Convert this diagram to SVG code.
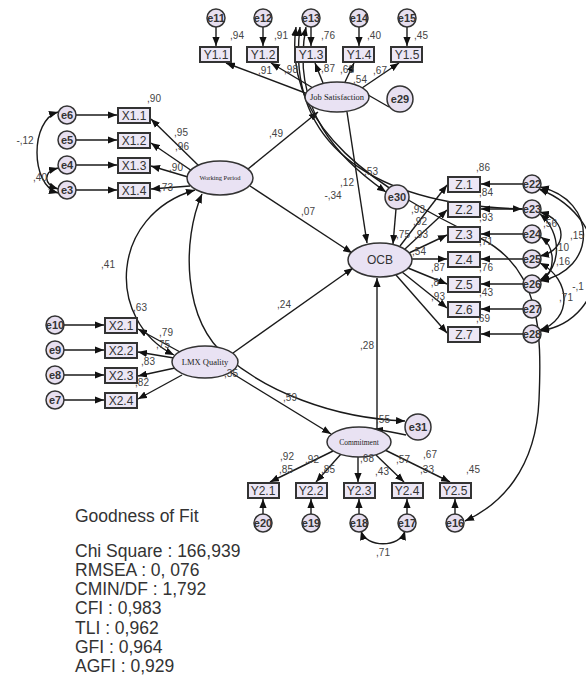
<svg xmlns="http://www.w3.org/2000/svg" width="586" height="677" viewBox="0 0 586 677">
<style>
.box{fill:#ece7f5;stroke:#333;stroke-width:2}
.lat{fill:#e9e2f3;stroke:#333;stroke-width:1.5}
.err{fill:#e7dff0;stroke:#333;stroke-width:1.5}
.ln{stroke:#1a1a1a;stroke-width:1.4;fill:none}
.bt{font-family:"Liberation Sans",Arial,sans-serif;font-size:12px;fill:#333;text-anchor:middle}
.et{font-family:"Liberation Sans",Arial,sans-serif;font-size:11px;font-weight:bold;fill:#333;text-anchor:middle}
.lt{font-family:"Liberation Serif","Times New Roman",serif;fill:#222;text-anchor:middle}
.lb{font-family:"Liberation Sans",Arial,sans-serif;font-size:10px;fill:#444;text-anchor:middle}
.gf{font-family:"Liberation Sans",Arial,sans-serif;font-size:17.5px;fill:#333}
</style>
<defs>
<marker id="ah" viewBox="0 0 10 8" refX="10" refY="4" markerWidth="9" markerHeight="7.5" markerUnits="userSpaceOnUse" orient="auto-start-reverse"><path d="M0,0 L10,4 L0,8 z" fill="#111"/></marker>
</defs>
<rect width="586" height="677" fill="#fff"/>

<g id="connectors">
<line class="ln" x1="216" y1="27" x2="216" y2="46" marker-end="url(#ah)"/>
<line class="ln" x1="263" y1="27" x2="263" y2="46" marker-end="url(#ah)"/>
<line class="ln" x1="311" y1="27" x2="311" y2="46" marker-end="url(#ah)"/>
<line class="ln" x1="359" y1="27" x2="359" y2="46" marker-end="url(#ah)"/>
<line class="ln" x1="407" y1="27" x2="407" y2="46" marker-end="url(#ah)"/>
<line class="ln" x1="308" y1="94" x2="226" y2="63" marker-end="url(#ah)"/>
<line class="ln" x1="313" y1="88" x2="271" y2="63" marker-end="url(#ah)"/>
<line class="ln" x1="323" y1="83" x2="315" y2="63" marker-end="url(#ah)"/>
<line class="ln" x1="345" y1="82" x2="354" y2="63" marker-end="url(#ah)"/>
<line class="ln" x1="362" y1="88" x2="399" y2="63" marker-end="url(#ah)"/>
<line class="ln" x1="389" y1="107" x2="349" y2="84" marker-end="url(#ah)"/>
<line class="ln" x1="76" y1="115" x2="117" y2="115" marker-end="url(#ah)"/>
<line class="ln" x1="76" y1="140" x2="117" y2="140" marker-end="url(#ah)"/>
<line class="ln" x1="76" y1="165" x2="117" y2="165" marker-end="url(#ah)"/>
<line class="ln" x1="76" y1="190" x2="117" y2="190" marker-end="url(#ah)"/>
<line class="ln" x1="199" y1="166" x2="151" y2="119" marker-end="url(#ah)"/>
<line class="ln" x1="192" y1="171" x2="151" y2="143" marker-end="url(#ah)"/>
<line class="ln" x1="188" y1="177" x2="151" y2="166" marker-end="url(#ah)"/>
<line class="ln" x1="190" y1="186" x2="151" y2="189" marker-end="url(#ah)"/>
<path class="ln" d="M58,112 C30,120 30,185 58,193" marker-start="url(#ah)" marker-end="url(#ah)"/>
<path class="ln" d="M58,168 C43,172 43,184 58,189" marker-start="url(#ah)" marker-end="url(#ah)"/>
<line class="ln" x1="64" y1="325" x2="104" y2="325" marker-end="url(#ah)"/>
<line class="ln" x1="64" y1="350" x2="104" y2="350" marker-end="url(#ah)"/>
<line class="ln" x1="64" y1="375" x2="104" y2="375" marker-end="url(#ah)"/>
<line class="ln" x1="64" y1="400" x2="104" y2="400" marker-end="url(#ah)"/>
<line class="ln" x1="180" y1="352" x2="138" y2="329" marker-end="url(#ah)"/>
<line class="ln" x1="174" y1="358" x2="138" y2="352" marker-end="url(#ah)"/>
<line class="ln" x1="175" y1="368" x2="138" y2="376" marker-end="url(#ah)"/>
<line class="ln" x1="182" y1="375" x2="138" y2="399" marker-end="url(#ah)"/>
<path class="ln" d="M195,190 C110,215 105,320 174,355" marker-start="url(#ah)" marker-end="url(#ah)"/>
<path class="ln" d="M202,194 C182,240 182,320 227,357 C265,390 330,418 405,421" marker-start="url(#ah)" marker-end="url(#ah)"/>
<line class="ln" x1="248" y1="169" x2="318" y2="112" marker-end="url(#ah)"/>
<line class="ln" x1="250" y1="186" x2="352" y2="253" marker-end="url(#ah)"/>
<line class="ln" x1="233" y1="353" x2="353" y2="268" marker-end="url(#ah)"/>
<line class="ln" x1="230" y1="372" x2="331" y2="434" marker-end="url(#ah)"/>
<line class="ln" x1="347" y1="112" x2="367" y2="243" marker-end="url(#ah)"/>
<line class="ln" x1="396" y1="209" x2="393" y2="244" marker-end="url(#ah)"/>
<line class="ln" x1="377" y1="429" x2="377" y2="278" marker-end="url(#ah)"/>
<path class="ln" d="M406,435 Q392,432 374,429" marker-end="url(#ah)"/>
<path class="ln" d="M306,27 C290,110 340,160 386,192" marker-start="url(#ah)" marker-end="url(#ah)"/>
<path class="ln" d="M300,27 C285,150 380,205 522,209" marker-start="url(#ah)" marker-end="url(#ah)"/>
<path class="ln" d="M296,27 C282,130 380,190 480,238 C540,268 542,330 539,400 C536,470 500,505 465,521" marker-start="url(#ah)" marker-end="url(#ah)"/>
<line class="ln" x1="400" y1="246" x2="447" y2="185" marker-end="url(#ah)"/>
<line class="ln" x1="405" y1="249" x2="447" y2="210" marker-end="url(#ah)"/>
<line class="ln" x1="409" y1="253" x2="447" y2="235" marker-end="url(#ah)"/>
<line class="ln" x1="412" y1="259" x2="447" y2="259" marker-end="url(#ah)"/>
<line class="ln" x1="408" y1="268" x2="447" y2="284" marker-end="url(#ah)"/>
<line class="ln" x1="402" y1="272" x2="447" y2="308" marker-end="url(#ah)"/>
<line class="ln" x1="396" y1="275" x2="447" y2="333" marker-end="url(#ah)"/>
<line class="ln" x1="523" y1="184" x2="481" y2="184" marker-end="url(#ah)"/>
<line class="ln" x1="523" y1="209" x2="481" y2="209" marker-end="url(#ah)"/>
<line class="ln" x1="523" y1="234" x2="481" y2="234" marker-end="url(#ah)"/>
<line class="ln" x1="523" y1="259" x2="481" y2="259" marker-end="url(#ah)"/>
<line class="ln" x1="523" y1="284" x2="481" y2="284" marker-end="url(#ah)"/>
<line class="ln" x1="523" y1="309" x2="481" y2="309" marker-end="url(#ah)"/>
<line class="ln" x1="523" y1="334" x2="481" y2="334" marker-end="url(#ah)"/>
<path class="ln" d="M540,187 C598,200 598,270 540,281" marker-start="url(#ah)" marker-end="url(#ah)"/>
<path class="ln" d="M540,212 C568,220 568,250 540,256" marker-start="url(#ah)" marker-end="url(#ah)"/>
<path class="ln" d="M540,214 C562,232 562,268 540,280" marker-start="url(#ah)" marker-end="url(#ah)"/>
<path class="ln" d="M541,237 C556,248 556,272 541,281" marker-start="url(#ah)" marker-end="url(#ah)"/>
<path class="ln" d="M539,189 C618,220 612,320 540,331" marker-start="url(#ah)" marker-end="url(#ah)"/>
<path class="ln" d="M540,263 C572,280 572,320 540,330" marker-start="url(#ah)" marker-end="url(#ah)"/>
<line class="ln" x1="333" y1="451" x2="270" y2="482" marker-end="url(#ah)"/>
<line class="ln" x1="341" y1="454" x2="316" y2="482" marker-end="url(#ah)"/>
<line class="ln" x1="358" y1="457" x2="358" y2="482" marker-end="url(#ah)"/>
<line class="ln" x1="376" y1="455" x2="404" y2="482" marker-end="url(#ah)"/>
<line class="ln" x1="385" y1="450" x2="450" y2="482" marker-end="url(#ah)"/>
<line class="ln" x1="263" y1="514" x2="263" y2="499" marker-end="url(#ah)"/>
<line class="ln" x1="311" y1="514" x2="311" y2="499" marker-end="url(#ah)"/>
<line class="ln" x1="359" y1="514" x2="359" y2="499" marker-end="url(#ah)"/>
<line class="ln" x1="407" y1="514" x2="407" y2="499" marker-end="url(#ah)"/>
<line class="ln" x1="455" y1="514" x2="455" y2="499" marker-end="url(#ah)"/>
<path class="ln" d="M361,531 C366,548 400,548 405,531" marker-start="url(#ah)" marker-end="url(#ah)"/>
</g>

<g id="n_Y1">
<rect class="box" x="200" y="47" width="31" height="15"/><text class="bt" x="216" y="59">Y1.1</text>
<rect class="box" x="247" y="47" width="31" height="15"/><text class="bt" x="263" y="59">Y1.2</text>
<rect class="box" x="295" y="47" width="31" height="15"/><text class="bt" x="311" y="59">Y1.3</text>
<rect class="box" x="343" y="47" width="31" height="15"/><text class="bt" x="359" y="59">Y1.4</text>
<rect class="box" x="391" y="47" width="31" height="15"/><text class="bt" x="407" y="59">Y1.5</text>
</g>
<g id="n_e11_15">
<circle class="err" cx="216" cy="18" r="9"/><text class="et" x="216" y="22">e11</text>
<circle class="err" cx="263" cy="18" r="9"/><text class="et" x="263" y="22">e12</text>
<circle class="err" cx="311" cy="18" r="9"/><text class="et" x="311" y="22">e13</text>
<circle class="err" cx="359" cy="18" r="9"/><text class="et" x="359" y="22">e14</text>
<circle class="err" cx="407" cy="18" r="9"/><text class="et" x="407" y="22">e15</text>
</g>
<g id="n_JS"><ellipse class="lat" cx="337" cy="97" rx="32" ry="15"/><text class="lt" x="337" y="100" font-size="8.5">Job Satisfaction</text></g>
<g id="n_e29"><circle class="err" cx="400" cy="99" r="13"/><text class="et" x="400" y="103" font-size="12">e29</text></g>

<g id="n_X1">
<rect class="box" x="118" y="108" width="32" height="15"/><text class="bt" x="134" y="120">X1.1</text>
<rect class="box" x="118" y="133" width="32" height="15"/><text class="bt" x="134" y="145">X1.2</text>
<rect class="box" x="118" y="158" width="32" height="15"/><text class="bt" x="134" y="170">X1.3</text>
<rect class="box" x="118" y="183" width="32" height="15"/><text class="bt" x="134" y="195">X1.4</text>
</g>
<g id="n_e3_6">
<circle class="err" cx="67" cy="115" r="9"/><text class="et" x="67" y="119">e6</text>
<circle class="err" cx="67" cy="140" r="9"/><text class="et" x="67" y="144">e5</text>
<circle class="err" cx="67" cy="165" r="9"/><text class="et" x="67" y="169">e4</text>
<circle class="err" cx="67" cy="190" r="9"/><text class="et" x="67" y="194">e3</text>
</g>
<g id="n_WP"><ellipse class="lat" cx="220" cy="178" rx="33" ry="17"/><text class="lt" x="220" y="180" font-size="6.5">Working Period</text></g>

<g id="n_X2">
<rect class="box" x="105" y="318" width="32" height="15"/><text class="bt" x="121" y="330">X2.1</text>
<rect class="box" x="105" y="343" width="32" height="15"/><text class="bt" x="121" y="355">X2.2</text>
<rect class="box" x="105" y="368" width="32" height="15"/><text class="bt" x="121" y="380">X2.3</text>
<rect class="box" x="105" y="393" width="32" height="15"/><text class="bt" x="121" y="405">X2.4</text>
</g>
<g id="n_e7_10">
<circle class="err" cx="55" cy="325" r="9"/><text class="et" x="55" y="329">e10</text>
<circle class="err" cx="55" cy="350" r="9"/><text class="et" x="55" y="354">e9</text>
<circle class="err" cx="55" cy="375" r="9"/><text class="et" x="55" y="379">e8</text>
<circle class="err" cx="55" cy="400" r="9"/><text class="et" x="55" y="404">e7</text>
</g>
<g id="n_LMX"><ellipse class="lat" cx="205" cy="362" rx="33" ry="16"/><text class="lt" x="205" y="365" font-size="8.5">LMX Quality</text></g>

<g id="n_OCB"><ellipse class="lat" cx="380" cy="260" rx="32" ry="17"/><text class="bt" x="380" y="264" font-size="11">OCB</text></g>
<g id="n_e30"><circle class="err" cx="397" cy="197" r="12"/><text class="et" x="397" y="201">e30</text></g>

<g id="n_Z">
<rect class="box" x="448" y="177" width="32" height="15"/><text class="bt" x="464" y="189">Z.1</text>
<rect class="box" x="448" y="202" width="32" height="15"/><text class="bt" x="464" y="214">Z.2</text>
<rect class="box" x="448" y="227" width="32" height="15"/><text class="bt" x="464" y="239">Z.3</text>
<rect class="box" x="448" y="252" width="32" height="15"/><text class="bt" x="464" y="264">Z.4</text>
<rect class="box" x="448" y="277" width="32" height="15"/><text class="bt" x="464" y="289">Z.5</text>
<rect class="box" x="448" y="302" width="32" height="15"/><text class="bt" x="464" y="314">Z.6</text>
<rect class="box" x="448" y="327" width="32" height="15"/><text class="bt" x="464" y="339">Z.7</text>
</g>
<g id="n_e22_28">
<circle class="err" cx="532" cy="184" r="9"/><text class="et" x="532" y="188">e22</text>
<circle class="err" cx="532" cy="209" r="9"/><text class="et" x="532" y="213">e23</text>
<circle class="err" cx="532" cy="234" r="9"/><text class="et" x="532" y="238">e24</text>
<circle class="err" cx="532" cy="259" r="9"/><text class="et" x="532" y="263">e25</text>
<circle class="err" cx="532" cy="284" r="9"/><text class="et" x="532" y="288">e26</text>
<circle class="err" cx="532" cy="309" r="9"/><text class="et" x="532" y="313">e27</text>
<circle class="err" cx="532" cy="334" r="9"/><text class="et" x="532" y="338">e28</text>
</g>

<g id="n_COM"><ellipse class="lat" cx="359" cy="442" rx="32" ry="15"/><text class="lt" x="359" y="445" font-size="7.5">Commitment</text></g>
<g id="n_e31"><circle class="err" cx="418" cy="427" r="13"/><text class="et" x="418" y="431" font-size="12">e31</text></g>

<g id="n_Y2">
<rect class="box" x="248" y="483" width="31" height="15"/><text class="bt" x="263" y="495">Y2.1</text>
<rect class="box" x="296" y="483" width="31" height="15"/><text class="bt" x="311" y="495">Y2.2</text>
<rect class="box" x="344" y="483" width="31" height="15"/><text class="bt" x="359" y="495">Y2.3</text>
<rect class="box" x="392" y="483" width="31" height="15"/><text class="bt" x="407" y="495">Y2.4</text>
<rect class="box" x="440" y="483" width="31" height="15"/><text class="bt" x="455" y="495">Y2.5</text>
</g>
<g id="n_e16_20">
<circle class="err" cx="263" cy="523" r="9"/><text class="et" x="263" y="527">e20</text>
<circle class="err" cx="311" cy="523" r="9"/><text class="et" x="311" y="527">e19</text>
<circle class="err" cx="359" cy="523" r="9"/><text class="et" x="359" y="527">e18</text>
<circle class="err" cx="407" cy="523" r="9"/><text class="et" x="407" y="527">e17</text>
<circle class="err" cx="455" cy="523" r="9"/><text class="et" x="455" y="527">e16</text>
</g>

<g id="labels">
<text class="lb" x="237" y="39">,94</text><text class="lb" x="281" y="39">,91</text><text class="lb" x="328" y="39">,76</text><text class="lb" x="374" y="39">,40</text><text class="lb" x="421" y="39">,45</text>
<text class="lb" x="265" y="74">,91</text><text class="lb" x="291" y="73">,98</text><text class="lb" x="328" y="72">,87</text><text class="lb" x="347" y="73">,63</text><text class="lb" x="360" y="83">,54</text><text class="lb" x="380" y="74">,67</text>
<text class="lb" x="154" y="102">,90</text><text class="lb" x="181" y="136">,95</text><text class="lb" x="182" y="150">,96</text><text class="lb" x="176" y="171">,90</text><text class="lb" x="166" y="191">,73</text>
<text class="lb" x="25" y="144">-,12</text><text class="lb" x="40" y="181">,40</text>
<text class="lb" x="108" y="268">,41</text>
<text class="lb" x="140" y="311">,63</text><text class="lb" x="166" y="336">,79</text><text class="lb" x="163" y="348">,75</text><text class="lb" x="148" y="365">,83</text><text class="lb" x="142" y="386">,82</text>
<text class="lb" x="231" y="377">,35</text>
<text class="lb" x="276" y="137">,49</text><text class="lb" x="308" y="215">,07</text><text class="lb" x="284" y="308">,24</text>
<text class="lb" x="371" y="175">,53</text><text class="lb" x="347" y="186">,12</text><text class="lb" x="333" y="199">-,34</text><text class="lb" x="403" y="238">,75</text>
<text class="lb" x="418" y="213">,93</text><text class="lb" x="420" y="225">,92</text><text class="lb" x="421" y="238">,93</text><text class="lb" x="419" y="255">,54</text><text class="lb" x="438" y="271">,87</text><text class="lb" x="435" y="286">,8</text><text class="lb" x="438" y="300">,93</text>
<text class="lb" x="483" y="171">,86</text><text class="lb" x="486" y="196">,84</text><text class="lb" x="486" y="221">,93</text><text class="lb" x="486" y="245">,71</text><text class="lb" x="486" y="271">,76</text><text class="lb" x="486" y="296">,43</text><text class="lb" x="483" y="322">,69</text>
<text class="lb" x="550" y="227">,56</text><text class="lb" x="577" y="239">,15</text><text class="lb" x="562" y="251">,10</text><text class="lb" x="563" y="265">,16</text><text class="lb" x="578" y="290">-,1</text><text class="lb" x="566" y="301">,71</text>
<text class="lb" x="290" y="401">,59</text><text class="lb" x="383" y="423">,55</text><text class="lb" x="367" y="349">,28</text>
<text class="lb" x="287" y="460">,92</text><text class="lb" x="312" y="463">,92</text><text class="lb" x="367" y="462">,68</text><text class="lb" x="403" y="463">,57</text><text class="lb" x="430" y="458">,67</text>
<text class="lb" x="286" y="473">,85</text><text class="lb" x="328" y="473">,85</text><text class="lb" x="382" y="475">,43</text><text class="lb" x="427" y="473">,33</text><text class="lb" x="473" y="473">,45</text>
<text class="lb" x="383" y="556">,71</text>
</g>

<g id="fit">
<text class="gf" x="75" y="522" font-size="17">Goodness of Fit</text>
<text class="gf" x="75" y="557">Chi Square : 166,939</text>
<text class="gf" x="75" y="576">RMSEA : 0, 076</text>
<text class="gf" x="75" y="595">CMIN/DF : 1,792</text>
<text class="gf" x="75" y="614">CFI : 0,983</text>
<text class="gf" x="75" y="634">TLI : 0,962</text>
<text class="gf" x="75" y="653">GFI : 0,964</text>
<text class="gf" x="75" y="672">AGFI : 0,929</text>
</g>
</svg>
